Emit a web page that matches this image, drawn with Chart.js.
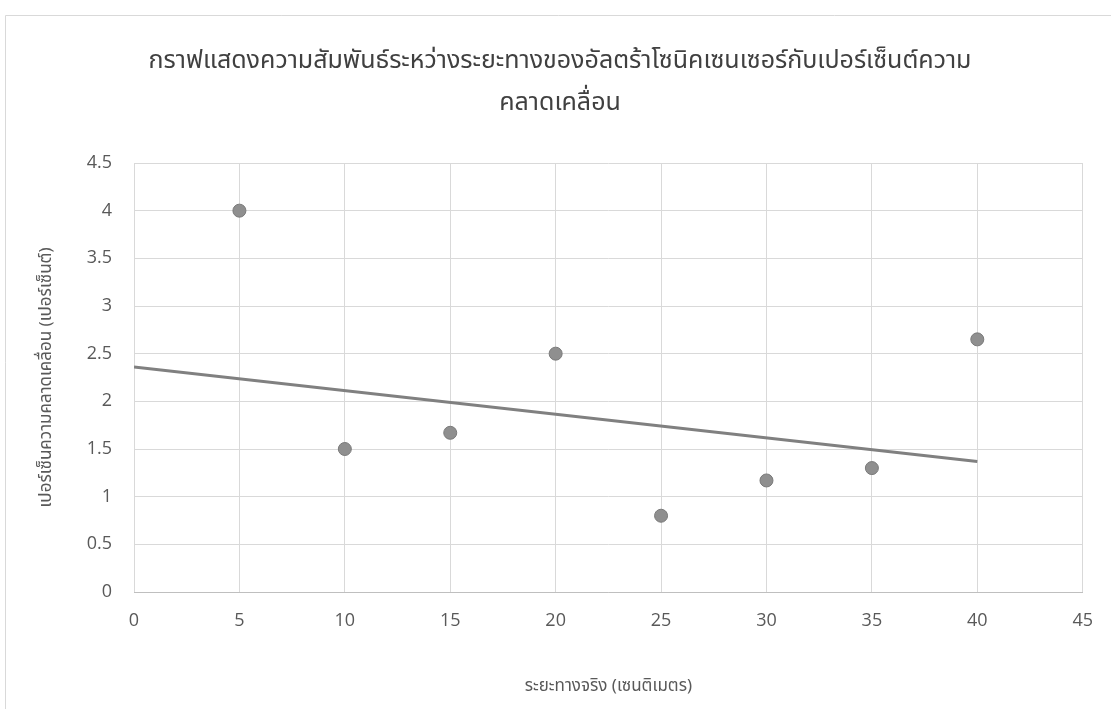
<!DOCTYPE html>
<html>
<head>
<meta charset="utf-8">
<script src="https://cdn.jsdelivr.net/npm/chart.js@4.4.1/dist/chart.umd.min.js"></script>
<style>
  html, body { margin: 0; padding: 0; background: #ffffff; }
  #wrap { width: 1111px; height: 709px; position: relative; }
</style>
</head>
<body>
<div id="wrap"><canvas id="c" width="1111" height="709"></canvas></div>
<script>
// Measured distance (cm) and percentage error
const distances = [5, 10, 15, 20, 25, 30, 35, 40];
const errorPercent = [4, 1.5, 1.67, 2.5, 0.8, 1.17, 1.3, 2.65];

// Linear trend line end points (x, y)
const trendX = [0, 40];
const trendY = [2.36, 1.37];

// Axis ranges and tick steps
const xRange = [0, 45];
const xStep = 5;
const yRange = [0, 4.5];
const yStep = 0.5;

const titleLines = [
  'กราฟแสดงความสัมพันธ์ระหว่างระยะทางของอัลตร้าโซนิคเซนเซอร์กับเปอร์เซ็นต์ความ',
  'คลาดเคลื่อน'
];
const xTitle = 'ระยะทางจริง (เซนติเมตร)';
const yTitle = 'เปอร์เซ็นความคลาดเคลื่อน (เปอร์เซ็นต์)';

const THAI = '"Noto Sans Thai", "Noto Sans", "DejaVu Sans", sans-serif';
const LATIN = '"Open Sans", "Noto Sans", sans-serif';

// Light frame around the whole chart
const framePlugin = {
  id: 'frame',
  beforeDraw(chart) {
    const ctx = chart.ctx;
    ctx.save();
    ctx.fillStyle = '#ffffff';
    ctx.fillRect(0, 0, chart.width, chart.height);
    ctx.strokeStyle = '#d9d9d9';
    ctx.lineWidth = 1;
    ctx.beginPath();
    ctx.moveTo(5.5, chart.height);
    ctx.lineTo(5.5, 15.5);
    ctx.lineTo(chart.width, 15.5);
    ctx.stroke();
    ctx.restore();
  }
};

new Chart(document.getElementById('c'), {
  type: 'scatter',
  data: {
    datasets: [
      {
        type: 'line',
        label: 'Linear',
        data: trendX.map((x, i) => ({ x: x, y: trendY[i] })),
        borderColor: '#808080',
        borderWidth: 3,
        pointRadius: 0,
        fill: false,
        order: 1
      },
      {
        label: 'Error',
        data: distances.map((x, i) => ({ x: x, y: errorPercent[i] })),
        backgroundColor: '#8f8f8f',
        borderColor: '#7a7a7a',
        borderWidth: 1,
        pointRadius: 6.5,
        order: 0
      }
    ]
  },
  options: {
    responsive: false,
    animation: false,
    layout: { padding: { left: 37, right: 28, top: 42, bottom: 0 } },
    plugins: {
      legend: { display: false },
      tooltip: { enabled: false },
      title: {
        display: true,
        text: titleLines,
        color: '#404040',
        font: { family: THAI, size: 25, weight: 'normal', lineHeight: 1.68 },
        padding: { top: 0, bottom: 37 }
      }
    },
    scales: {
      x: {
        type: 'linear',
        min: xRange[0],
        max: xRange[1],
        ticks: {
          stepSize: xStep,
          color: '#595959',
          font: { family: LATIN, size: 18 },
          padding: 18
        },
        grid: { color: '#d9d9d9', lineWidth: 1, tickLength: 0 },
        border: { color: '#bfbfbf' },
        title: {
          display: true,
          text: xTitle,
          color: '#595959',
          font: { family: THAI, size: 17 },
          padding: { top: 0, bottom: 11 }
        },
        afterFit(scale) { scale.height = 117; }
      },
      y: {
        type: 'linear',
        min: yRange[0],
        max: yRange[1],
        ticks: {
          stepSize: yStep,
          color: '#595959',
          font: { family: LATIN, size: 18 },
          padding: 22,
          callback: (v) => String(Math.round(v * 10) / 10)
        },
        grid: { color: '#d9d9d9', lineWidth: 1, tickLength: 0 },
        border: { display: false },
        title: {
          display: true,
          text: yTitle,
          color: '#595959',
          font: { family: THAI, size: 17 },
          padding: { top: 0, bottom: 0 }
        },
        afterFit(scale) { scale.width = 97; }
      }
    }
  },
  plugins: [framePlugin]
});
</script>
</body>
</html>
